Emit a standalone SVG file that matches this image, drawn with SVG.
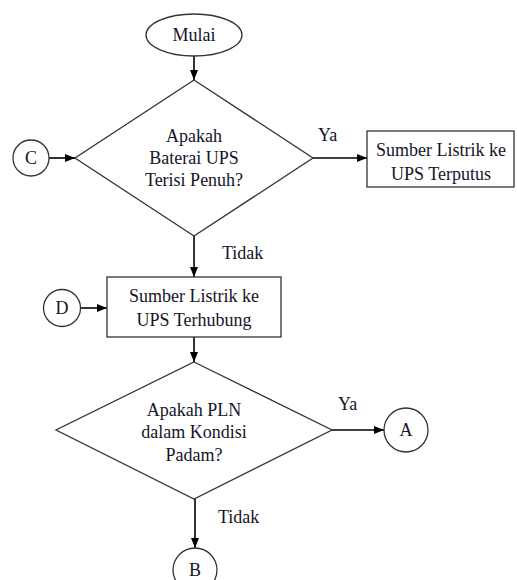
<svg xmlns="http://www.w3.org/2000/svg" width="517" height="580" viewBox="0 0 517 580">
  <defs>
    <marker id="arrow" markerWidth="10" markerHeight="8" refX="10" refY="4" orient="auto" markerUnits="userSpaceOnUse">
      <path d="M0,0 L10,4 L0,8 Z" fill="#000"/>
    </marker>
    <style>
      .shape { fill: #fff; stroke: #333; stroke-width: 1.3; }
      .conn { fill: none; stroke: #000; stroke-width: 1.6; marker-end: url(#arrow); }
      text { font-family: 'Liberation Serif', 'Times New Roman', 'DejaVu Serif', serif; font-size: 18px; fill: #141428; }
      .label { text-anchor: middle; }
    </style>
  </defs>
  <rect width="517" height="580" fill="#fff"/>

  <!-- connectors -->
  <g id="connectors" font-family="Liberation Serif, serif">
    <line class="conn" x1="194" y1="56" x2="194" y2="80"/>
    <line class="conn" x1="49" y1="158" x2="75" y2="158"/>
    <line class="conn" x1="313" y1="158" x2="367" y2="158"/>
    <line class="conn" x1="194" y1="236" x2="194" y2="277"/>
    <line class="conn" x1="80" y1="308" x2="107" y2="308"/>
    <line class="conn" x1="194" y1="337" x2="194" y2="362"/>
    <line class="conn" x1="332" y1="430" x2="384" y2="430"/>
    <line class="conn" x1="195" y1="499" x2="195" y2="548"/>
    <text x="318" y="141">Ya</text>
    <text x="222" y="259">Tidak</text>
    <text x="338" y="410">Ya</text>
    <text x="218" y="523">Tidak</text>
  </g>

  <g id="mulai">
    <ellipse class="shape" cx="194" cy="35" rx="48" ry="21"/>
    <text class="label" x="194" y="41">Mulai</text>
  </g>

  <g id="cek-baterai">
    <polygon class="shape" points="194,80 313,158 194,236 75,158"/>
    <text class="label" x="194" y="142">Apakah</text>
    <text class="label" x="194" y="164">Baterai UPS</text>
    <text class="label" x="194" y="186">Terisi Penuh?</text>
  </g>

  <g id="konektor-c">
    <circle class="shape" cx="31" cy="158" r="18"/>
    <text class="label" x="31" y="164">C</text>
  </g>

  <g id="ups-terputus">
    <rect class="shape" x="367" y="131" width="147" height="56"/>
    <text class="label" x="441" y="156">Sumber Listrik ke</text>
    <text class="label" x="441" y="180">UPS Terputus</text>
  </g>

  <g id="ups-terhubung">
    <rect class="shape" x="107" y="277" width="174" height="60"/>
    <text class="label" x="194" y="302">Sumber Listrik ke</text>
    <text class="label" x="194" y="326">UPS Terhubung</text>
  </g>

  <g id="konektor-d">
    <circle class="shape" cx="62" cy="308" r="18.5"/>
    <text class="label" x="62" y="314">D</text>
  </g>

  <g id="cek-pln">
    <polygon class="shape" points="194,362 332,430 194,499 56,430"/>
    <text class="label" x="194" y="416">Apakah PLN</text>
    <text class="label" x="194" y="438">dalam Kondisi</text>
    <text class="label" x="194" y="461">Padam?</text>
  </g>

  <g id="konektor-a">
    <circle class="shape" cx="406" cy="430" r="22"/>
    <text class="label" x="406" y="436">A</text>
  </g>

  <g id="konektor-b">
    <circle class="shape" cx="195" cy="570" r="22"/>
    <text class="label" x="195" y="576">B</text>
  </g>
</svg>
